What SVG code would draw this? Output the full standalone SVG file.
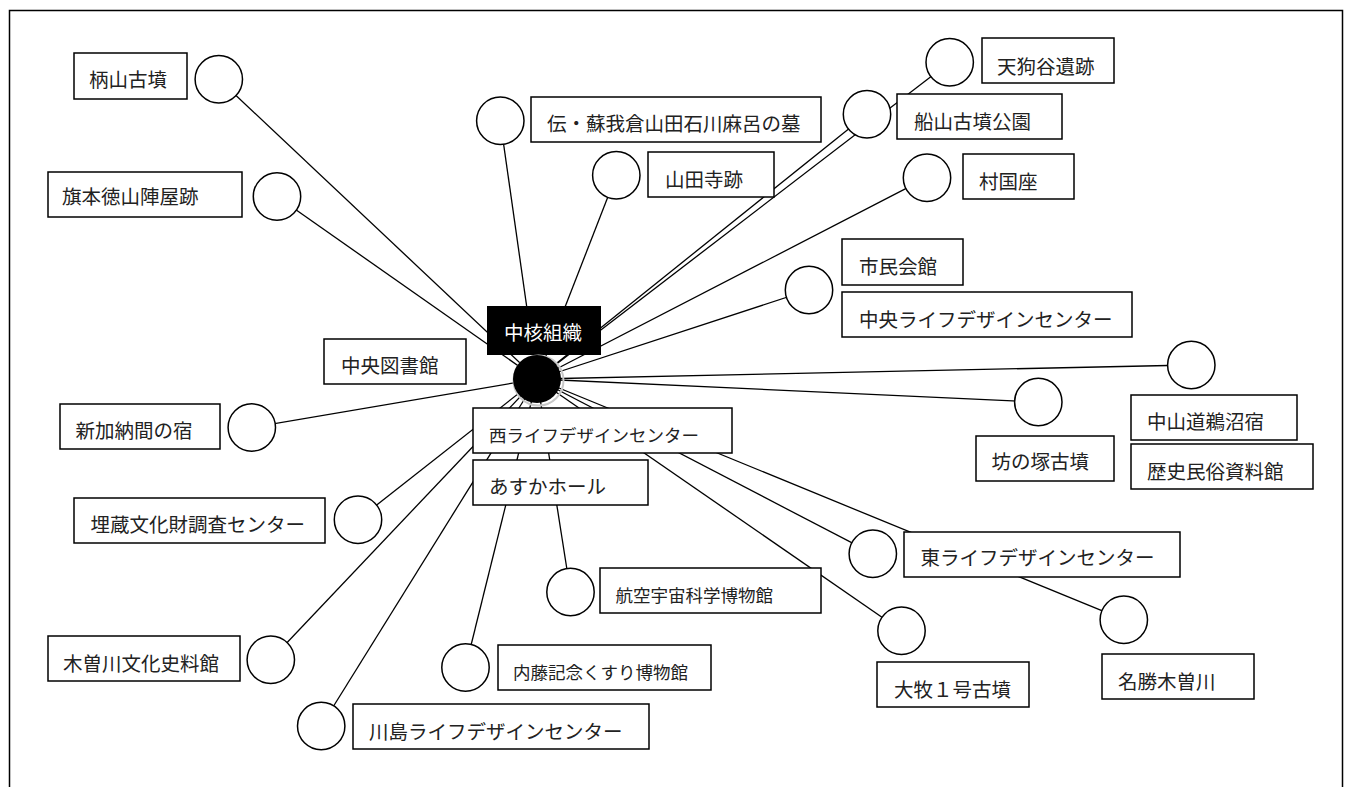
<svg xmlns="http://www.w3.org/2000/svg" width="1349" height="787" viewBox="0 0 1349 787">
<style>
.bx{fill:#fff;stroke:#000;stroke-width:1.5}
.ci{fill:#fff;stroke:#000;stroke-width:1.5}
.t{font-family:"Noto Sans CJK JP","Noto Sans",sans-serif;font-size:19.5px;fill:#222}
.s{font-size:17.5px}
.ln line{stroke:#000;stroke-width:1.3}
</style>
<rect x="0" y="0" width="1349" height="787" fill="#fff"/>
<path d="M9.5,800 V10.5 H1342.5 V800" fill="none" stroke="#000" stroke-width="1.5"/>
<g id="connectors" class="ln">
<line x1="537" y1="379" x2="218.8" y2="79.3"/>
<line x1="537" y1="379" x2="277" y2="196.5"/>
<line x1="537" y1="379" x2="500.3" y2="120.8"/>
<line x1="537" y1="379" x2="616.3" y2="175.3"/>
<line x1="537" y1="379" x2="867" y2="114.2"/>
<line x1="537" y1="379" x2="949.7" y2="62.2"/>
<line x1="537" y1="379" x2="927" y2="177.7"/>
<line x1="537" y1="379" x2="809" y2="290"/>
<line x1="537" y1="379" x2="1191.3" y2="365"/>
<line x1="537" y1="379" x2="1038.3" y2="402"/>
<line x1="537" y1="379" x2="251.8" y2="427.5"/>
<line x1="537" y1="379" x2="358" y2="519.7"/>
<line x1="537" y1="379" x2="270.8" y2="659.7"/>
<line x1="537" y1="379" x2="321.2" y2="726"/>
<line x1="537" y1="379" x2="465.5" y2="667.5"/>
<line x1="537" y1="379" x2="570.5" y2="592"/>
<line x1="537" y1="379" x2="872.8" y2="553.7"/>
<line x1="537" y1="379" x2="901.5" y2="630.7"/>
<line x1="537" y1="379" x2="1123.8" y2="619.7"/>
</g>
<g id="n-karayama"><circle class="ci" cx="218.8" cy="79.3" r="23.7"/><rect class="bx" x="74" y="53" width="113" height="46"/><text class="t" x="89" y="87">柄山古墳</text></g>
<g id="n-hatamoto"><circle class="ci" cx="277" cy="196.5" r="23.7"/><rect class="bx" x="48" y="172" width="194" height="45"/><text class="t" x="62" y="203.5">旗本徳山陣屋跡</text></g>
<g id="n-soga"><circle class="ci" cx="500.3" cy="120.8" r="23.7"/><rect class="bx" x="531" y="97" width="290" height="45"/><text class="t" x="547" y="131">伝・蘇我倉山田石川麻呂の墓</text></g>
<g id="n-yamadadera"><circle class="ci" cx="616.3" cy="175.3" r="23.7"/><rect class="bx" x="648" y="152" width="126" height="45"/><text class="t" x="665" y="187">山田寺跡</text></g>
<g id="n-tengudani"><circle class="ci" cx="949.7" cy="62.2" r="23.7"/><rect class="bx" x="982" y="38" width="132" height="45"/><text class="t" x="997" y="73.5">天狗谷遺跡</text></g>
<g id="n-funayama"><circle class="ci" cx="867" cy="114.2" r="23.7"/><rect class="bx" x="897" y="94" width="165" height="45"/><text class="t" x="914" y="128.5">船山古墳公園</text></g>
<g id="n-murakuniza"><circle class="ci" cx="927" cy="177.7" r="23.7"/><rect class="bx" x="963" y="154" width="111" height="45"/><text class="t" x="979" y="188.5">村国座</text></g>
<g id="n-shimin"><circle class="ci" cx="809" cy="290" r="23.7"/><rect class="bx" x="842" y="239" width="121" height="46"/><text class="t" x="859" y="273.5">市民会館</text><rect class="bx" x="842" y="292" width="290" height="45"/><text class="t" x="859" y="327">中央ライフデザインセンター</text></g>
<g id="n-nakasendo"><circle class="ci" cx="1191.3" cy="365" r="23.7"/><rect class="bx" x="1131" y="395" width="166" height="45"/><text class="t" x="1147" y="429">中山道鵜沼宿</text><rect class="bx" x="1131" y="444" width="182" height="45"/><text class="t" x="1147" y="479">歴史民俗資料館</text></g>
<g id="n-bonotsuka"><circle class="ci" cx="1038.3" cy="402" r="23.7"/><rect class="bx" x="976" y="436" width="138" height="45"/><text class="t" x="991.5" y="469">坊の塚古墳</text></g>
<g id="n-library"><rect class="bx" x="324" y="339" width="142" height="45"/><text class="t" x="341" y="372.5">中央図書館</text></g>
<g id="n-shinkano"><circle class="ci" cx="251.8" cy="427.5" r="23.7"/><rect class="bx" x="60" y="404" width="160" height="45"/><text class="t" x="75.5" y="438">新加納間の宿</text></g>
<g id="n-maizo"><circle class="ci" cx="358" cy="519.7" r="23.7"/><rect class="bx" x="74" y="498" width="251" height="45"/><text class="t" x="90.5" y="532">埋蔵文化財調査センター</text></g>
<g id="n-nishi"><rect class="bx" x="473" y="408" width="259" height="45"/><text class="t s" x="489" y="441.5">西ライフデザインセンター</text></g>
<g id="n-asuka"><rect class="bx" x="473" y="460" width="175" height="45"/><text class="t" x="489" y="493.5">あすかホール</text></g>
<g id="n-kisogawa"><circle class="ci" cx="270.8" cy="659.7" r="23.7"/><rect class="bx" x="48" y="636" width="192" height="45"/><text class="t" x="63" y="671">木曽川文化史料館</text></g>
<g id="n-kawashima"><circle class="ci" cx="321.2" cy="726" r="23.7"/><rect class="bx" x="353" y="704" width="296" height="45"/><text class="t" x="369" y="738.5">川島ライフデザインセンター</text></g>
<g id="n-naito"><circle class="ci" cx="465.5" cy="667.5" r="23.7"/><rect class="bx" x="498" y="645" width="213" height="45"/><text class="t s" x="513" y="678.5">内藤記念くすり博物館</text></g>
<g id="n-kouku"><circle class="ci" cx="570.5" cy="592" r="23.7"/><rect class="bx" x="600" y="568" width="221" height="45"/><text class="t s" x="615.5" y="601.5">航空宇宙科学博物館</text></g>
<g id="n-higashi"><circle class="ci" cx="872.8" cy="553.7" r="23.7"/><rect class="bx" x="904" y="532" width="276" height="45"/><text class="t" x="920.5" y="565">東ライフデザインセンター</text></g>
<g id="n-omaki"><circle class="ci" cx="901.5" cy="630.7" r="23.7"/><rect class="bx" x="877" y="662" width="152" height="45"/><text class="t" x="894" y="697">大牧１号古墳</text></g>
<g id="n-meisho"><circle class="ci" cx="1123.8" cy="619.7" r="23.7"/><rect class="bx" x="1102" y="654" width="152" height="45"/><text class="t" x="1118" y="688.5">名勝木曽川</text></g>
<g id="n-hub"><rect x="487" y="306" width="114" height="49" fill="#000"/><text class="t" x="504" y="340" style="fill:#fff">中核組織</text><circle cx="538.5" cy="380.5" r="25" fill="none" stroke="#c8c8c8" stroke-width="2"/><circle cx="537" cy="379" r="24" fill="#000"/></g>
</svg>
